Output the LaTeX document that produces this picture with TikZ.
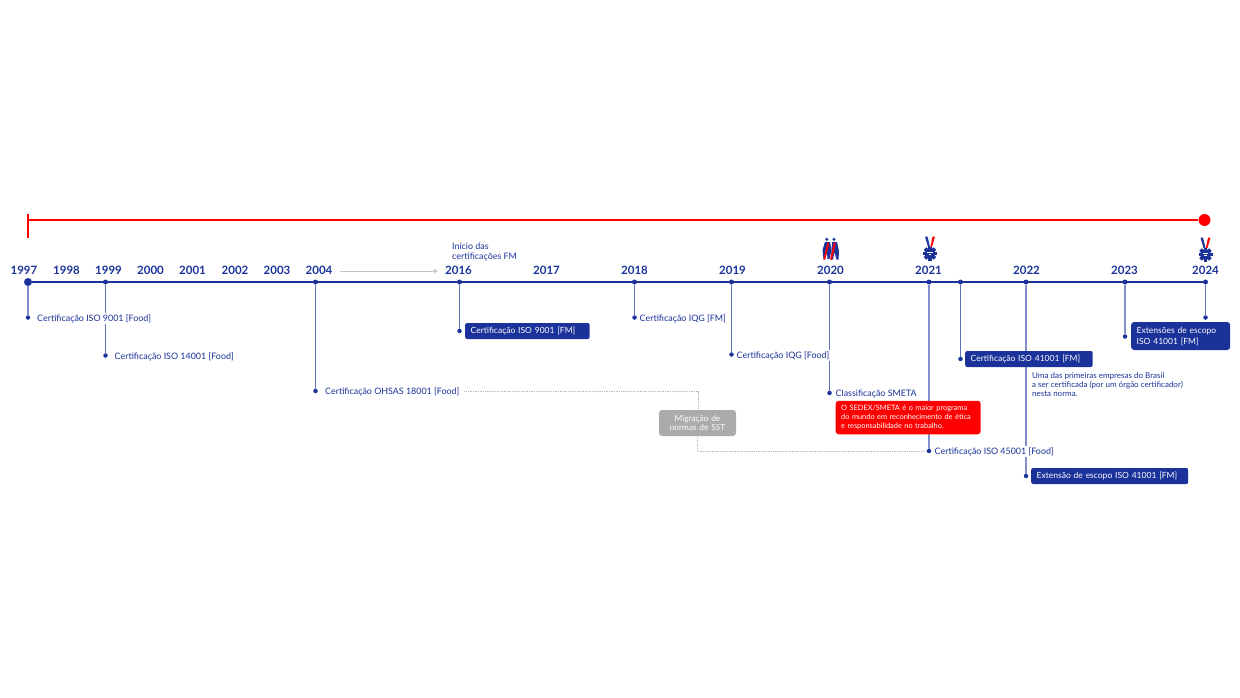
\documentclass[tikz,border=0pt]{standalone}
\usepackage{fontspec}
\setmainfont{Lato}
\usepackage{xcolor}
\usetikzlibrary{arrows.meta}
\usetikzlibrary{calc}
\definecolor{dblue}{HTML}{1A329A}
\definecolor{lblue}{HTML}{8190CC}
\definecolor{dred}{HTML}{FF0000}
\definecolor{dgray}{HTML}{ABABAB}
\tikzstyle{year}=[text=dblue,font=\fontsize{11.5}{13}\selectfont\bfseries,inner sep=0pt,text height=8.5pt,text depth=0pt]
\tikzstyle{tick}=[circle,fill=dblue,inner sep=0pt,minimum size=5pt]
\tikzstyle{stem}=[line width=1.2pt,dblue!70!white]
\tikzstyle{stemwide}=[line width=2pt,lblue]
\tikzstyle{lab}=[anchor=west,text=dblue,fill=white,inner sep=1pt,font=\fontsize{8.9}{10}\selectfont]
\tikzstyle{fmbox}=[rounded corners=2pt,fill=dblue,text=white,align=left,anchor=west,inner xsep=5.5pt,inner ysep=0pt,font=\fontsize{8.5}{11}\selectfont]
\tikzstyle{implied}=[densely dotted,line width=.7pt,dgray!80]
\newcommand\medal[1]{%
  \begin{scope}[shift={(#1)}]
    \fill[dblue] (-5,-11.5) -- (-2.5,-11.5) -- (0,-1) -- (-2,-1) -- cycle;
    \fill[dred] (5,-11.5) -- (2.5,-11.5) -- (.4,-1) -- (2,-1) -- cycle;
    \fill[dblue] (0,5.5) circle (5.6);
    \foreach \ang in {0,45,...,315}
      \fill[dblue,rotate around={\ang:(0,5.5)}] (-1.8,-1.5) rectangle (1.8,1.5);
    \fill[white] (-2.6,3.8) rectangle (2.6,4.6);
    \fill[white] (-1.3,5.8) rectangle (1.3,6.5);
  \end{scope}}
\begin{document}
\begin{tikzpicture}[x=1pt,y=-1pt]
\useasboundingbox (0,0) rectangle (1240,698);
\foreach \yr/\px in {1997/24,1998/66.5,1999/108.5,2000/150.5,2001/192.5,2002/235,2003/277,2004/319,2016/458.5,2017/546.5,2018/634.5,2019/732.5,2020/830.5,2021/928.5,2022/1026.5,2023/1124.5,2024/1205.5}
  \node[year] (y\yr) at (\px,270.7) {\yr};
\node[tick,minimum size=8pt] (t1997) at (28,282) {};
\foreach \yr/\px in {1999/105.5,2004/315.5,2016/459.5,2018/634.5,2019/731.5,2020/829.5,2021/929,2021b/960.5,2022/1026,2023/1125,2024/1205.5}
  \node[tick] (t\yr) at (\px,282) {};
\foreach \yr/\px/\py in {1997/28/317.5,1999/105.5/355.5,2004/315.5/391,2016/459.5/331,2018/634.5/317.5,2019/731.5/354.5,2020/829.5/393,2021/929/451,2021b/960.5/359,2022/1026/476,2023/1125/336.5,2024/1205.5/317.5}
  \node[tick,minimum size=4.5pt] (d\yr) at (\px,\py) {};
\draw[line width=1.6pt,dblue] (t1997) -- (t2024);
\draw[stemwide] (t1997) -- (d1997);
\draw[stem] (t1999) -- (d1999);
\draw[stem] (t2004) -- (d2004);
\draw[stem] (t2016) -- (d2016);
\draw[stem] (t2018) -- (d2018);
\draw[stem] (t2019) -- (d2019);
\draw[stem] (t2020) -- (d2020);
\draw[stemwide] (t2021) -- (d2021);
\draw[stem] (t2021b) -- (d2021b);
\draw[stemwide] (t2022) -- (d2022);
\draw[stemwide] (t2023) -- (d2023);
\draw[stem] (t2024) -- (d2024);
\coordinate (redA) at (28,220);
\coordinate (redB) at (28,214);
\coordinate (redC) at (28,238);
\node[circle,fill=dred,inner sep=0pt,minimum size=12pt] (redEnd) at (1204.5,220) {};
\draw[line width=2pt,dred] (redA) -- (redEnd);
\draw[line width=2pt,dred] (redB) -- (redC);
\coordinate (gapA) at (340,271);
\coordinate (gapB) at (438,271);
\draw[line width=.7pt,dgray!70,-{Triangle[length=4pt,width=4pt]}] (gapA) -- (gapB);
\node[lab] (n1997) at (36,318.4) {Certificação ISO 9001 [Food]};
\node[lab] (n1999) at (113.5,356.4) {Certificação ISO 14001 [Food]};
\node[lab] (n2004) at (324,391.6) {Certificação OHSAS 18001 [Food]};
\node[lab] (n2018) at (638.5,318.6) {Certificação IQG [FM]};
\node[lab] (n2019) at (735.5,355.6) {Certificação IQG [Food]};
\node[lab] (n2020) at (834.5,393.6) {Classificação SMETA};
\node[lab] (n2021) at (933.5,451.6) {Certificação ISO 45001 [Food]};
\node[lab,fill=none,align=left,anchor=north west,font=\fontsize{8}{9}\selectfont] (n2022) at (1031,371) {Uma das primeiras empresas do Brasil\\a ser certificada (por um órgão certificador)\\nesta norma.};
\node[lab,fill=none,align=left,anchor=south west] (n2016) at (451,262) {Início das\\certificações FM};
\node[fmbox,minimum height=16pt,text width=113.5pt] (b2016) at (465,331) {Certificação ISO 9001 [FM]};
\node[fmbox,minimum height=16pt,text width=116.5pt] (b2021) at (965,359) {Certificação ISO 41001 [FM]};
\node[fmbox,minimum height=16pt,text width=146pt] (b2022) at (1031,476) {Extensão de escopo ISO 41001 [FM]};
\node[fmbox,rounded corners=3pt,minimum height=28pt,text width=88pt] (b2023) at (1131,336) {Extensões de escopo\\ISO 41001 [FM]};
\node[fmbox,fill=dred,rounded corners=3pt,minimum height=33.5pt,text width=134pt,font=\fontsize{7.4}{8.6}\selectfont] (bSmeta) at (835.5,417.5) {O SEDEX/SMETA é o maior programa\\do mundo em reconhecimento de ética\\e responsabilidade no trabalho.};
\draw[implied] (n2004.east)++(4,0) -| (698,411);
\node[fmbox,fill=dgray,rounded corners=3pt,anchor=center,align=center,inner xsep=0pt,text width=77pt,minimum height=26pt,font=\fontsize{8.3}{9.6}\selectfont] (bSst) at (697.5,423) {Migração de\\normas de SST};
\draw[implied] (bSst.south) |- (d2021);
\medal{930,248}
\medal{1205.5,249}
\fill[dblue] (826.8,239.3) circle (1.7);
\fill[dblue] (834,239.3) circle (1.7);
\fill[dblue] (825,242) -- (830,242) -- (831.5,250) -- (829.5,259) -- (827.5,259) -- (827,252) -- (825,259) -- (823.5,259) -- (822.5,250) -- cycle;
\fill[dblue] (832,242) -- (837,242) -- (839,251) -- (838.5,259.5) -- (836.5,259.5) -- (834.5,252) -- (833,259.5) -- (831,259.5) -- cycle;
\fill[dred] (823.3,259.5) -- (825.3,259.5) -- (829.3,243) -- (827.3,243) -- cycle;
\fill[dred] (830,259.5) -- (832,259.5) -- (835.8,243) -- (833.8,243) -- cycle;
\end{tikzpicture}
\end{document}
